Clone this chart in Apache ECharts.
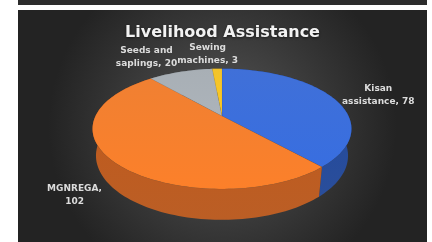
<!DOCTYPE html>
<html>
<head>
<meta charset="utf-8">
<script src="https://cdn.jsdelivr.net/npm/echarts@6/dist/echarts.min.js"></script>
<style>
  html, body { margin: 0; padding: 0; background: #fff; }
  #strip { position: absolute; left: 18px; top: 0; width: 409px; height: 5px; background: #2c2c2c; }
  #chart { position: absolute; left: 18px; top: 10px; width: 409px; height: 232px; }
</style>
</head>
<body>
<div id="strip"></div>
<div id="chart"></div>
<script>
// data
var categories = ['Kisan assistance', 'MGNREGA', 'Seeds and saplings', 'Sewing machines'];
var labelText = ['Kisan\nassistance, 78', 'MGNREGA,\n102', 'Seeds and\nsaplings, 20', 'Sewing\nmachines, 3'];
var values = [78, 102, 20, 3];
var topColors = ['#3669d6', '#f07a28', '#a4abb2', '#f2c020'];
var sideColors = ['#1f4596', '#b8561a', '#737a80', '#b08a10'];

var labelFont = 'bold 9px "DejaVu Sans"';

var total = values.reduce(function (a, b) { return a + b; }, 0);
var starts = [];
var acc = 0;
values.forEach(function (v) { starts.push(acc / total * Math.PI * 2); acc += v; });

// width of the widest line, so multi-line labels stay centred on themselves
var ctx = document.createElement('canvas').getContext('2d');
ctx.font = labelFont;
function textWidth(s) {
  return Math.max.apply(null, s.split('\n').map(function (l) { return ctx.measureText(l).width; }));
}

// simple perspective of a tilted disc
var CX = 204, CY = 106, F = 530, D = 4.19, T = 0.24;
var E = 27 * Math.PI / 180, sinE = Math.sin(E), cosE = Math.cos(E);

function proj(u, v, depth) {
  var yw = v * sinE + depth * T * cosE;
  var z = D - v * cosE + depth * T * sinE;
  return [CX + F * u / z, CY + F * yw / z];
}
function arc(a1, a2, r, depth) {
  var pts = [];
  var n = Math.max(2, Math.ceil((a2 - a1) / 0.03));
  for (var i = 0; i <= n; i++) {
    var a = a1 + (a2 - a1) * i / n;
    pts.push(proj(Math.sin(a) * r, -Math.cos(a) * r, depth));
  }
  return pts;
}

function renderItem(params, api) {
  var i = params.dataIndex;
  var a1 = starts[i];
  var a2 = a1 + values[i] / total * Math.PI * 2;
  var topArc = arc(a1, a2, 1, 0);
  var botArc = arc(a1, a2, 1, 1).reverse();
  var mid = (a1 + a2) / 2;
  var mu = Math.sin(mid), mv = -Math.cos(mid);
  var lp = proj(mu * 1.1, mv * 1.1, mv > 0 ? 1 : 0);
  var w = textWidth(labelText[i]);
  var lx = lp[0];
  if (mu > 0.3) lx += w / 2;
  else if (mu < -0.3) lx -= w / 2;
  else lx -= w / 2 * 0.3;
  var valign = mv < -0.5 ? 'bottom' : 'middle';
  return {
    type: 'group',
    children: [
      {
        type: 'polygon',
        z2: 1,
        shape: { points: topArc.concat(botArc) },
        style: {
          fill: new echarts.graphic.LinearGradient(0, 0, 0, 1, [
            { offset: 0, color: echarts.color.lift(sideColors[i], -0.05) },
            { offset: 1, color: echarts.color.lift(sideColors[i], 0.05) }
          ])
        }
      },
      {
        type: 'polygon',
        z2: 10,
        shape: { points: [proj(0, 0, 0)].concat(topArc) },
        style: {
          fill: new echarts.graphic.LinearGradient(0, 0, 0, 1, [
            { offset: 0, color: echarts.color.lift(topColors[i], 0.05) },
            { offset: 1, color: echarts.color.lift(topColors[i], -0.05) }
          ]),
          stroke: 'rgba(0,0,0,0.08)',
          lineWidth: 0.5
        }
      },
      {
        type: 'text',
        z2: 20,
        x: lx,
        y: lp[1] + (valign === 'bottom' ? 2 : 0),
        style: {
          text: labelText[i],
          fill: '#dcdcdc',
          font: labelFont,
          lineHeight: 13,
          align: 'center',
          verticalAlign: valign
        }
      }
    ]
  };
}

var chart = echarts.init(document.getElementById('chart'));
chart.setOption({
  backgroundColor: new echarts.graphic.RadialGradient(0.5, 0.5, 0.75, [
    { offset: 0, color: '#565656' },
    { offset: 1, color: '#232323' }
  ]),
  title: {
    text: 'Livelihood Assistance',
    left: 'center',
    top: 10,
    textStyle: {
      color: '#f2f2f2',
      fontFamily: 'DejaVu Sans',
      fontWeight: 'bold',
      fontSize: 16,
      textShadowColor: 'rgba(0,0,0,0.6)',
      textShadowBlur: 3,
      textShadowOffsetY: 1
    }
  },
  series: [{
    type: 'custom',
    coordinateSystem: 'none',
    renderItem: renderItem,
    data: values.map(function (v, i) { return { name: categories[i], value: v }; })
  }]
});
</script>
</body>
</html>
